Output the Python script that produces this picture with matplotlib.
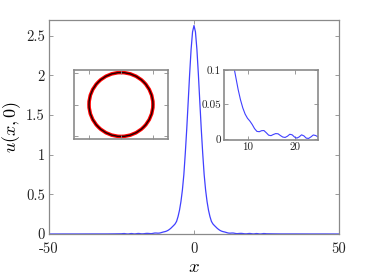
import matplotlib
matplotlib.use("Agg")
import matplotlib.pyplot as plt
from matplotlib.patches import Circle
import numpy as np

plt.rcParams['mathtext.fontset'] = 'cm'
plt.rcParams['axes.formatter.use_mathtext'] = True

# ---- data (right half; profile is symmetric) ----
x_right = [0, 0.5, 1, 1.5, 2, 2.5, 3, 3.5, 4, 4.5, 5, 5.5, 6, 6.5, 7, 7.5,
           8, 8.5, 9, 9.5, 10, 10.5, 11, 11.5, 12, 12.5, 13, 13.5, 14, 14.5,
           15, 15.5, 16, 16.5, 17, 17.5, 18, 18.5, 19, 19.5, 20, 20.5, 21,
           21.5, 22, 22.5, 23, 23.5, 24, 24.5, 25, 27, 30, 35, 40, 45, 50]
u_right = [2.63, 2.55, 2.33, 2.02, 1.67, 1.327, 1.02, 0.75, 0.555, 0.41,
           0.30, 0.22, 0.16, 0.128, 0.108, 0.09, 0.072, 0.057, 0.045, 0.036,
           0.030, 0.026, 0.021, 0.015, 0.011, 0.0105, 0.012, 0.0122, 0.009,
           0.0055, 0.0048, 0.0065, 0.0078, 0.0075, 0.005, 0.0028, 0.0022,
           0.004, 0.0068, 0.006, 0.0028, 0.0012, 0.003, 0.006, 0.0045,
           0.0012, 0.0008, 0.003, 0.0058, 0.005, 0.003, 0.002, 0.001,
           0.001, 0.0005, 0.0005, 0.0]

x_main = [-v for v in x_right[::-1]] + x_right[1:]
u_main = u_right[::-1] + u_right[1:]

main_xticks = [-50, 0, 50]
main_xticklabels = ['-50', '0', '50']
main_yticks = [0, 0.5, 1, 1.5, 2, 2.5]
main_yticklabels = ['0', '0.5', '1', '1.5', '2', '2.5']

inset_xticks = [10, 20]
inset_xticklabels = ['10', '20']
inset_yticks = [0, 0.05, 0.1]
inset_yticklabels = ['0', '0.05', '0.1']

circle_center = (0.0, 0.0)
circle_radius = 1.0
circle_ticks = [-1, 0, 1]

W, H = 374, 280
fig = plt.figure(figsize=(W/100, H/100), dpi=100)

frame_col = '#8a8a8a'
line_col = (0.25, 0.25, 1.0)
tickfont = 'cmr10'

def style(ax, col, lw):
    for s in ax.spines.values():
        s.set_color(col)
        s.set_linewidth(lw)
    ax.tick_params(direction='in', top=True, right=True, color=col,
                   length=3, width=0.6, pad=2)

# main axes
ax = fig.add_axes([49/W, 1-234/H, 290/W, 214/H])
ax.plot(x_main, u_main, color=line_col, lw=0.9)
ax.set_xlim(-50, 50)
ax.set_ylim(0, 2.7)
ax.set_xticks(main_xticks)
ax.set_xticklabels(main_xticklabels, fontfamily=tickfont, fontsize=10.5)
ax.set_yticks(main_yticks)
ax.set_yticklabels(main_yticklabels, fontfamily=tickfont, fontsize=10.5)
style(ax, frame_col, 0.9)
ax.tick_params(labelcolor='#222222')
ax.tick_params(axis='x', pad=6)
ax.tick_params(axis='y', pad=3)
ax.set_xlabel('$x$', fontsize=13.5, labelpad=1)
ax.set_ylabel('$u(x,0)$', fontsize=13, labelpad=2)

# inset 1 : circle
a1 = fig.add_axes([74/W, 1-139/H, 94/W, 69/H])
a1.set_xlim(-1.47, 1.47)
a1.set_ylim(-1.08, 1.08)
a1.add_patch(Circle(circle_center, circle_radius, fill=False,
                    edgecolor='#ff0000', lw=2.6))
a1.add_patch(Circle(circle_center, circle_radius, fill=False,
                    edgecolor='#220000', lw=1.0))
a1.set_xticks(circle_ticks)
a1.set_yticks(circle_ticks)
a1.set_xticklabels([])
a1.set_yticklabels([])
style(a1, frame_col, 1.2)

# inset 2 : tail
a2 = fig.add_axes([224/W, 1-140/H, 94/W, 70/H])
a2.plot(x_right, u_right, color=line_col, lw=0.8)
a2.set_xlim(5, 25)
a2.set_ylim(-0.0015, 0.1)
a2.set_xticks(inset_xticks)
a2.set_xticklabels(inset_xticklabels, fontfamily=tickfont, fontsize=8)
a2.set_yticks(inset_yticks)
a2.set_yticklabels(inset_yticklabels, fontfamily=tickfont, fontsize=8)
style(a2, frame_col, 1.2)
a2.tick_params(labelcolor='#222222')

fig.savefig('out.png', dpi=100)
